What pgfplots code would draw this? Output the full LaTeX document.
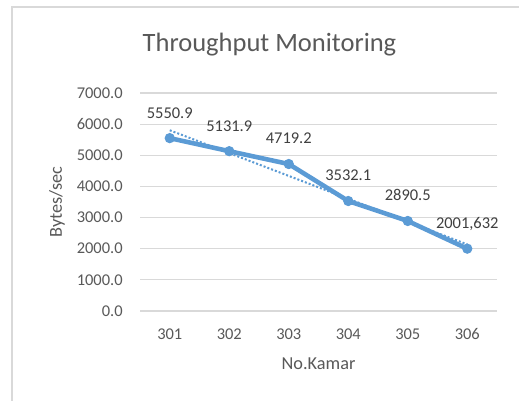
\documentclass[border=0pt]{standalone}
\usepackage{fontspec}
\setmainfont{Carlito}
\usepackage{pgfplots}
\pgfplotsset{compat=1.18}
\definecolor{xlblue}{HTML}{5B9BD5}
\definecolor{xlgrid}{HTML}{D9D9D9}
\definecolor{xltext}{HTML}{595959}
\definecolor{xllabel}{HTML}{404040}
\begin{document}
\begin{tikzpicture}[x=0.5472pt,y=0.5472pt]
% whole chart in reference pixels, 519 x 400, y measured from the bottom
\useasboundingbox (0,0) rectangle (519,400);
\fill[white] (0,0) rectangle (519,400);
\draw[xlgrid,line width=0.6pt] (12,393) rectangle (530,-10);
\node[anchor=base,text=xltext,font=\fontsize{14.5}{16}\selectfont] at (269.5,348) {Throughput Monitoring};
\node[rotate=90,text=xltext,font=\fontsize{10}{12}\selectfont] at (57,198) {Bytes/sec};
\node[anchor=base,text=xltext,font=\fontsize{10}{12}\selectfont] at (318.5,31) {No.Kamar};
% plot area: pixels 140..497 wide, 89..307 from the bottom
\begin{axis}[at={(76.61pt,48.70pt)},anchor=south west,scale only axis,width=195.35pt,height=119.29pt,
  xmin=0.5,xmax=6.5,ymin=0,ymax=7000,
  axis lines*=left,axis line style={draw=none},major tick length=0pt,
  xtick={1,...,6},xticklabels={301,302,303,304,305,306},
  ytick={0,1000,...,7000},yticklabels={0.0,1000.0,2000.0,3000.0,4000.0,5000.0,6000.0,7000.0},
  ymajorgrids,grid style={xlgrid,line width=0.6pt},
  tick label style={font=\fontsize{9}{11}\selectfont,text=xltext,inner sep=0pt},
  xticklabel style={anchor=base,yshift=-15.6pt},
  yticklabel style={anchor=east,xshift=-9.3pt},
  clip=false]
% trendline (least squares fit of the six points, end values)
\addplot[xlblue,line width=1.1pt,dash pattern=on 1.1pt off 1.1pt] coordinates {(1,5803.7) (6,2138.4)};
\addplot[xlblue,line width=2.5pt,mark=*,mark size=2.5pt,mark options={solid,line width=0.6pt,fill=xlblue},
  point meta=explicit symbolic,nodes near coords,
  nodes near coords style={anchor=base,yshift=11pt,inner sep=0pt,text=xllabel,font=\fontsize{9}{11}\selectfont}]
  coordinates {(1,5550.9) [5550.9] (2,5131.9) [5131.9] (3,4719.2) [4719.2] (4,3532.1) [3532.1] (5,2890.5) [2890.5] (6,2001.632) [{2001,632}]};
\end{axis}
\end{tikzpicture}
\end{document}
